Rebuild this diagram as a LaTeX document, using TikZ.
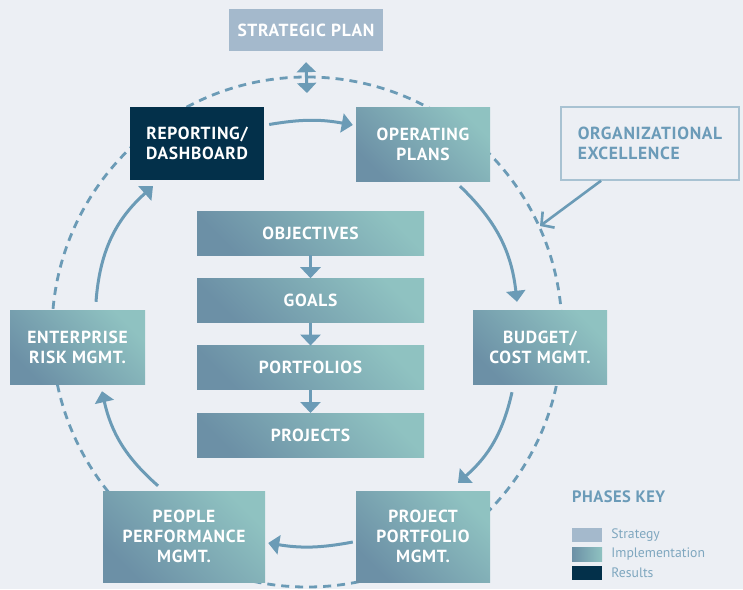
\documentclass[tikz,border=0pt]{standalone}
\usepackage{fontspec}
\setmainfont{PT Sans}
\usetikzlibrary{positioning, arrows.meta}
\definecolor{bgCol}{HTML}{ECEFF4}
\definecolor{stratCol}{HTML}{A4B9CC}
\definecolor{resultCol}{HTML}{03304A}
\definecolor{ringCol}{HTML}{6B9BB6}
\definecolor{gradDark}{HTML}{6C90A6}
\definecolor{gradLight}{HTML}{8FC2C1}
\definecolor{orgLine}{HTML}{A8C2D2}
\definecolor{orgText}{HTML}{6B9BB8}
\definecolor{keyText}{HTML}{7FA7BF}
\newcommand{\boxfont}{\fontsize{17.5}{20}\selectfont\bfseries\addfontfeature{LetterSpace=4}}
\tikzstyle{box}=[rectangle, align=center, text=white, font=\boxfont, inner sep=0pt]
\tikzstyle{implbox}=[box, bottom color=gradDark, top color=gradLight, shading angle=-45]
\tikzstyle{ring}=[draw=ringCol, line width=2.8pt, dash pattern=on 8pt off 6pt]
\tikzstyle{flow}=[-{Triangle[width=19pt,length=11pt]}, line width=3pt, draw=ringCol]
\tikzstyle{stackflow}=[-{Triangle[width=20pt,length=11pt]}, line width=3pt, draw=ringCol]
\tikzstyle{swatch}=[rectangle, minimum width=30pt, minimum height=14pt, inner sep=0pt]
\tikzstyle{keylabel}=[text=keyText, font=\fontsize{13.7}{15}\selectfont, inner sep=0pt]

\begin{document}
\begin{tikzpicture}[x=1pt, y=-1pt, node distance=23pt]
  \fill [bgCol] (0,0) rectangle (743,589);
  \useasboundingbox (0,0) rectangle (743,589);
  % the cycle ring
  \draw [ring] (307,332) circle [radius=255pt];
  \node (strat) [box, fill=stratCol, minimum width=154pt, minimum height=42pt] at (306,30) {STRATEGIC PLAN};
  \coordinate (ringtop) at (307,93);
  \coordinate (ringhit) at (540,226);
  \node (report) [box, fill=resultCol, minimum width=134pt, minimum height=73pt] at (197,143.5) {REPORTING/\\DASHBOARD};
  \node (oper) [implbox, minimum width=134pt, minimum height=74pt] at (423,144) {OPERATING\\PLANS};
  \node (org) [box, draw=orgLine, line width=1.5pt, text=orgText, align=left, minimum width=178pt, minimum height=73pt] at (650,143.5) {ORGANIZATIONAL\\EXCELLENCE};
  \node (budget) [implbox, minimum width=134pt, minimum height=74pt] at (540,347) {BUDGET/\\COST MGMT.};
  \node (portfolio) [implbox, minimum width=134pt, minimum height=91pt] at (423,536.5) {PROJECT\\PORTFOLIO\\MGMT.};
  \node (people) [implbox, minimum width=162pt, minimum height=91pt] at (184,536.5) {PEOPLE\\PERFORMANCE\\MGMT.};
  \node (risk) [implbox, minimum width=135pt, minimum height=74pt] at (77.5,347) {ENTERPRISE\\RISK MGMT.};
  % centre stack
  \node (objectives) [implbox, minimum width=227pt, minimum height=44pt] at (310.5,233) {OBJECTIVES};
  \node (goals) [implbox, minimum width=227pt, minimum height=44pt, below=of objectives] {GOALS};
  \node (portfolios) [implbox, minimum width=227pt, minimum height=44pt, below=of goals] {PORTFOLIOS};
  \node (projects) [implbox, minimum width=227pt, minimum height=44pt, below=of portfolios] {PROJECTS};
  \foreach \a/\b in {objectives/goals, goals/portfolios, portfolios/projects}
    \draw [stackflow] (\a) -- (\b);
  % cycle arrows
  \draw [{Triangle[width=19pt,length=10pt]}-{Triangle[width=19pt,length=10pt]}, line width=3pt, draw=ringCol] ([yshift=-11pt]strat.south) -- (ringtop);
  \draw [flow] ([xshift=5pt,yshift=19pt]report.east) to [bend left=10] ([xshift=-3pt,yshift=19pt]oper.west);
  \draw [flow] ([xshift=37pt,yshift=-5pt]oper.south) to [bend left=20] ([xshift=-23pt,yshift=8pt]budget.north);
  \draw [flow] ([xshift=-28pt,yshift=-8pt]budget.south) to [bend left=18] ([xshift=35pt,yshift=8pt]portfolio.north);
  \draw [flow] ([xshift=-3pt,yshift=-5.5pt]portfolio.west) to [bend left=10] ([xshift=3pt,yshift=-6.5pt]people.east);
  \draw [flow] ([xshift=-26pt,yshift=5pt]people.north) to [bend left=18] ([xshift=24.5pt,yshift=-7pt]risk.south);
  \draw [flow] ([xshift=18.5pt,yshift=8pt]risk.north) to [bend left=22] ([xshift=-44pt,yshift=-6pt]report.south);
  \draw [-{Straight Barb[length=9pt,width=20pt]}, line width=2.6pt, draw=ringCol] ([xshift=-49pt]org.south) -- (ringhit);
  % phases key
  \node (keyhead) [anchor=west, inner sep=0pt, text=orgText, font=\fontsize{16.5}{18}\selectfont\bfseries\addfontfeature{LetterSpace=3}] at (572,497) {PHASES KEY};
  \node (keystrat) [swatch, fill=stratCol] at (587,535) {};
  \node (keyimpl) [swatch, left color=gradDark, right color=gradLight] at (587,554) {};
  \node (keyres) [swatch, fill=resultCol] at (587,573) {};
  \node (lstrat) [keylabel, right=9pt of keystrat] {Strategy};
  \node (limpl) [keylabel, right=9pt of keyimpl] {Implementation};
  \node (lres) [keylabel, right=9pt of keyres] {Results};
\end{tikzpicture}
\end{document}
